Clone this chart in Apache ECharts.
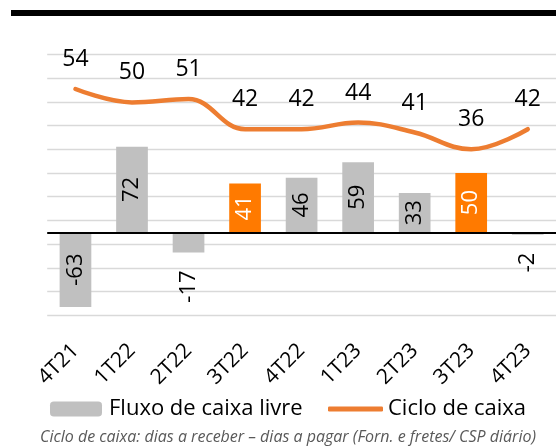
<!DOCTYPE html>
<html>
<head>
<meta charset="utf-8">
<script src="https://cdn.jsdelivr.net/npm/echarts@6/dist/echarts.min.js"></script>
<style>
  html, body { margin: 0; padding: 0; background: #fff; }
  #chart { width: 556px; height: 448px; }
</style>
</head>
<body>
<div id="chart"></div>
<script>
const quarters = ['4T21', '1T22', '2T22', '3T22', '4T22', '1T23', '2T23', '3T23', '4T23'];
const fluxoCaixa = [-63, 72, -17, 41, 46, 59, 33, 50, -2];
const cicloCaixa = [54, 50, 51, 42, 42, 44, 41, 36, 42];
const highlighted = ['3T22', '3T23'];

const FONT = "'Open Sans', 'Noto Sans', sans-serif";
const GRAY = '#c0c0c0';
const ORANGE_BAR = '#ff7a00';
const ORANGE_LINE = '#ed7d31';

const chart = echarts.init(document.getElementById('chart'));

// bars: highlighted quarters in orange with white label, small negatives labelled below
const barData = fluxoCaixa.map((v, i) => {
    const hot = highlighted.includes(quarters[i]);
    const outside = v < 0 && v > -30;
    return {
        value: v,
        itemStyle: { color: hot ? ORANGE_BAR : GRAY },
        label: outside
            ? { position: 'bottom', distance: 18, align: 'right', verticalAlign: 'middle', color: '#000' }
            : { position: 'inside', align: 'center', verticalAlign: 'middle', color: hot ? '#fff' : '#000' }
    };
});

const option = {
    animation: false,
    grid: { left: 47.2, right: -6, top: 54.3, bottom: 132.7 },
    xAxis: {
        type: 'category',
        data: quarters,
        boundaryGap: true,
        axisLine: { show: false },
        axisTick: { show: false },
        axisLabel: { rotate: 45, margin: 32, fontSize: 21, fontFamily: FONT, color: '#000' }
    },
    yAxis: [
        { type: 'value', min: -70, max: 150, show: false },
        { type: 'value', min: -13.55, max: 64.36, show: false },
        {
            type: 'value', min: 0, max: 11, interval: 1,
            axisLine: { show: false }, axisTick: { show: false }, axisLabel: { show: false },
            splitLine: { lineStyle: { color: '#d9d9d9', width: 1.4 } }
        }
    ],
    legend: [
        {
            data: ['Fluxo de caixa livre'],
            left: 50, top: 398, padding: 0,
            itemWidth: 52, itemHeight: 15,
            textStyle: { fontSize: 22, fontFamily: FONT, color: '#000', padding: [0, 0, 0, 2] }
        },
        {
            data: [{ name: 'Ciclo de caixa', icon: 'roundRect' }],
            left: 328, top: 398, padding: 0,
            itemWidth: 55, itemHeight: 5,
            itemStyle: { color: ORANGE_LINE },
            textStyle: { fontSize: 22, fontFamily: FONT, color: '#000' }
        }
    ],
    graphic: [
        { type: 'rect', left: 11, top: 10, shape: { width: 545, height: 6 }, style: { fill: '#000' } },
        {
            type: 'text', left: 40, top: 429,
            style: {
                text: 'Ciclo de caixa: dias a receber \u2013 dias a pagar (Forn. e fretes/ CSP di\u00e1rio)',
                font: 'italic 16px ' + FONT, fill: '#595959'
            }
        }
    ],
    series: [
        {
            name: 'Fluxo de caixa livre',
            type: 'bar',
            yAxisIndex: 0,
            barWidth: 31.7,
            data: barData,
            itemStyle: { color: GRAY },
            label: { show: true, rotate: 90, fontSize: 22, fontFamily: FONT },
            markLine: {
                silent: true,
                symbol: 'none',
                label: { show: false },
                lineStyle: { color: '#000', width: 2, type: 'solid' },
                data: [{ yAxis: 0 }]
            }
        },
        {
            name: 'Ciclo de caixa',
            type: 'line',
            yAxisIndex: 1,
            data: cicloCaixa,
            smooth: 0.4,
            showSymbol: true,
            symbol: 'circle',
            symbolSize: 0,
            lineStyle: { color: ORANGE_LINE, width: 4.5, cap: 'round' },
            itemStyle: { color: ORANGE_LINE },
            label: { show: true, position: 'top', distance: 18, fontSize: 23, fontFamily: FONT, color: '#000' },
            labelLayout: { hideOverlap: false }
        }
    ]
};

chart.setOption(option);
</script>
</body>
</html>
